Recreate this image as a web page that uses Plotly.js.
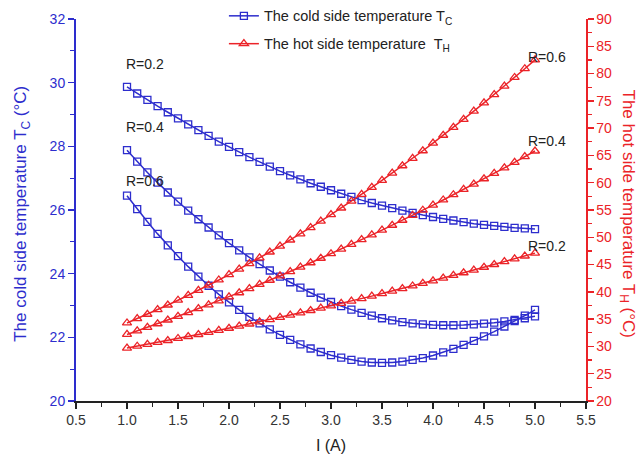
<!DOCTYPE html>
<html><head><meta charset="utf-8">
<script src="https://cdn.plot.ly/plotly-3.0.1.min.js"></script>
<style>html,body{margin:0;padding:0;background:#fff}#chart{width:637px;height:458px}</style>
</head><body><div id="chart"></div>
<script>
const current = [1.0,1.1,1.2,1.3,1.4,1.5,1.6,1.7,1.8,1.9,2.0,2.1,2.2,2.3,2.4,2.5,2.6,2.7,2.8,2.9,3.0,3.1,3.2,3.3,3.4,3.5,3.6,3.7,3.8,3.9,4.0,4.1,4.2,4.3,4.4,4.5,4.6,4.7,4.8,4.9,5.0];

const coldR02 = [29.87,29.66,29.46,29.26,29.07,28.88,28.69,28.51,28.33,28.15,27.98,27.82,27.66,27.51,27.36,27.22,27.09,26.96,26.84,26.73,26.62,26.51,26.41,26.31,26.22,26.14,26.06,25.98,25.91,25.84,25.78,25.72,25.67,25.62,25.57,25.53,25.50,25.47,25.44,25.42,25.40];
const coldR04 = [27.88,27.52,27.18,26.86,26.55,26.26,25.98,25.71,25.45,25.20,24.96,24.73,24.51,24.30,24.10,23.91,23.73,23.56,23.40,23.25,23.11,22.98,22.87,22.77,22.68,22.60,22.53,22.48,22.44,22.41,22.39,22.38,22.38,22.39,22.41,22.43,22.46,22.50,22.55,22.60,22.66];
const coldR06 = [26.45,26.03,25.63,25.25,24.89,24.55,24.22,23.91,23.62,23.35,23.10,22.86,22.64,22.44,22.25,22.08,21.92,21.78,21.65,21.54,21.44,21.36,21.29,21.24,21.21,21.20,21.21,21.24,21.29,21.35,21.43,21.53,21.64,21.76,21.89,22.03,22.18,22.34,22.51,22.68,22.86];

const hotR02 = [29.70,30.04,30.39,30.74,31.09,31.46,31.82,32.19,32.56,32.95,33.33,33.72,34.11,34.51,34.92,35.33,35.74,36.16,36.58,37.01,37.44,37.88,38.32,38.77,39.22,39.68,40.14,40.60,41.08,41.55,42.03,42.52,43.01,43.50,44.00,44.51,45.01,45.53,46.05,46.57,47.10];
const hotR04 = [32.20,32.84,33.50,34.16,34.84,35.52,36.21,36.92,37.63,38.36,39.09,39.84,40.59,41.36,42.13,42.92,43.71,44.52,45.33,46.16,46.99,47.84,48.69,49.56,50.43,51.32,52.21,53.12,54.03,54.96,55.90,56.84,57.80,58.77,59.74,60.73,61.72,62.73,63.74,64.77,65.81];
const hotR06 = [34.30,35.09,35.90,36.74,37.59,38.47,39.36,40.28,41.22,42.18,43.16,44.17,45.19,46.24,47.30,48.39,49.50,50.63,51.78,52.96,54.15,55.37,56.61,57.86,59.14,60.44,61.77,63.11,64.47,65.86,67.27,68.70,70.15,71.62,73.11,74.62,76.16,77.71,79.29,80.89,82.51];

const xTicks = [0.5,1.0,1.5,2.0,2.5,3.0,3.5,4.0,4.5,5.0,5.5];
const leftTicks = [20,22,24,26,28,30,32];
const rightTicks = [20,25,30,35,40,45,50,55,60,65,70,75,80,85,90];

const coldLabels = ['R=0.2','R=0.4','R=0.6'];
const coldLabelY = [30.6,28.6,26.9];
const hotLabels = ['R=0.6','R=0.4','R=0.2'];
const hotLabelY = [83.0,67.6,48.4];

const BLUE = 'rgb(45,45,205)';
const RED = 'rgb(235,35,40)';
const FONT = 'Liberation Sans, Arial, sans-serif';

function cold(y, show) {
  return {x: current, y: y, type: 'scatter', mode: 'lines+markers', yaxis: 'y',
    name: 'The cold side temperature T<sub>C</sub>', showlegend: show, legendrank: 1, legendgroup: 'c',
    line: {color: BLUE, width: 1.5},
    marker: {symbol: 'square-open', size: 7, color: BLUE, line: {width: 1.3}}};
}
function hot(y, show) {
  return {x: current, y: y, type: 'scatter', mode: 'lines+markers', yaxis: 'y2',
    name: 'The hot side temperature  T<sub>H</sub>', showlegend: show, legendrank: 2, legendgroup: 'h',
    line: {color: RED, width: 1.5},
    marker: {symbol: 'triangle-up-open', size: 8, color: RED, line: {width: 1.3}}};
}

const data = [cold(coldR02, true), cold(coldR04, false), cold(coldR06, false),
              hot(hotR02, true), hot(hotR04, false), hot(hotR06, false)];

const annotations = [];
coldLabels.forEach((t, i) => annotations.push({x: 1.0, y: coldLabelY[i], xref: 'x', yref: 'y', text: t,
  showarrow: false, xanchor: 'left', yanchor: 'middle', xshift: -3, font: {family: FONT, size: 14, color: '#222'}}));
hotLabels.forEach((t, i) => annotations.push({x: 4.91, y: hotLabelY[i], xref: 'x', yref: 'y2', text: t,
  showarrow: false, xanchor: 'left', yanchor: 'middle', font: {family: FONT, size: 14, color: '#222'}}));
annotations.push({xref: 'paper', yref: 'paper', x: -0.106, y: 0.49, text: 'The cold side temperature T<sub>C</sub> (°C)',
  textangle: -90, showarrow: false, xanchor: 'center', yanchor: 'middle', font: {family: FONT, size: 17, color: BLUE}});
annotations.push({xref: 'paper', yref: 'paper', x: 1.081, y: 0.49, text: 'The hot side temperature T<sub>H</sub> (°C)',
  textangle: 90, showarrow: false, xanchor: 'center', yanchor: 'middle', font: {family: FONT, size: 17, color: RED}});

const layout = {
  width: 637, height: 458,
  margin: {l: 76, r: 51, t: 19, b: 57, autoexpand: false},
  paper_bgcolor: '#fff', plot_bgcolor: '#fff',
  font: {family: FONT, size: 14, color: '#333'},
  showlegend: true,
  legend: {x: 0.29, y: 1.05, xanchor: 'left', yanchor: 'top', bgcolor: 'rgba(0,0,0,0)',
    font: {family: FONT, size: 14.5, color: '#222'}, tracegroupgap: 6},
  xaxis: {range: [0.5, 5.5], tickvals: xTicks, ticktext: xTicks.map(v => v.toFixed(1)),
    showgrid: false, zeroline: false, showline: true, linecolor: '#222', linewidth: 1.5,
    ticks: 'outside', ticklen: 6, tickwidth: 1.3, tickcolor: '#222',
    minor: {dtick: 0.25, ticklen: 4, tickwidth: 1.2, tickcolor: '#222', showgrid: false},
    tickfont: {family: FONT, size: 14, color: '#333'},
    title: {text: 'I (A)', font: {family: FONT, size: 16, color: '#222'}, standoff: 12}},
  yaxis: {range: [20, 32], tickvals: leftTicks, showgrid: false, zeroline: false,
    showline: true, linecolor: BLUE, linewidth: 2, ticks: 'outside', ticklen: 6, tickwidth: 1.3, tickcolor: BLUE,
    minor: {dtick: 1, ticklen: 4, tickwidth: 1.2, tickcolor: BLUE, showgrid: false},
    tickfont: {family: FONT, size: 14, color: BLUE}},
  yaxis2: {range: [20, 90], tickvals: rightTicks, overlaying: 'y', side: 'right', showgrid: false, zeroline: false,
    showline: true, linecolor: RED, linewidth: 1.5, ticks: 'outside', ticklen: 6, tickwidth: 1.3, tickcolor: RED,
    minor: {dtick: 2.5, ticklen: 4, tickwidth: 1.2, tickcolor: RED, showgrid: false},
    tickfont: {family: FONT, size: 14, color: RED}},
  annotations: annotations
};

Plotly.newPlot('chart', data, layout, {displayModeBar: false, staticPlot: true});
</script>
</body></html>
